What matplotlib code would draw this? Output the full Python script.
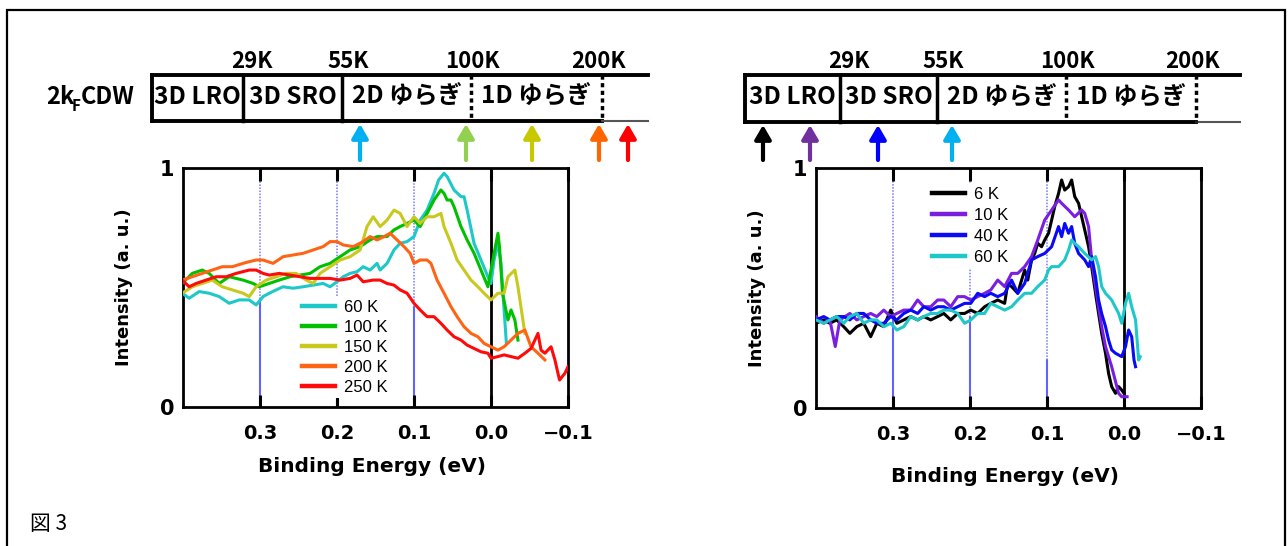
import matplotlib.pyplot as plt

plt.rcParams['font.family'] = ['DejaVu Sans', 'Noto Sans CJK JP']

# ---- left panel: 60 - 250 K ----
temps_l = ['60 K', '100 K', '150 K', '200 K', '250 K']
colors_l = ['#1ec8c8', '#00c000', '#c8c81e', '#ff6414', '#ff0a0a']

e_60 = [0.401, 0.392, 0.379, 0.366, 0.353, 0.340, 0.327, 0.314, 0.305, 0.296, 0.288, 0.279, 0.270, 0.257, 0.244,
        0.231, 0.218, 0.209, 0.200, 0.192, 0.183, 0.174, 0.166, 0.157, 0.148, 0.144, 0.135, 0.126, 0.118, 0.109,
        0.100, 0.092, 0.083, 0.074, 0.068, 0.061, 0.057, 0.048, 0.039, 0.035, 0.031, 0.022, 0.013, 0.004, 0.000,
        -0.004, -0.009, -0.013, -0.017, -0.020]
i_60 = [0.476, 0.455, 0.483, 0.476, 0.462, 0.434, 0.448, 0.448, 0.427, 0.462, 0.476, 0.490, 0.503, 0.497, 0.503,
        0.510, 0.517, 0.503, 0.524, 0.545, 0.559, 0.566, 0.587, 0.573, 0.601, 0.573, 0.601, 0.657, 0.685, 0.692,
        0.713, 0.782, 0.824, 0.894, 0.950, 0.978, 0.964, 0.908, 0.880, 0.880, 0.824, 0.685, 0.615, 0.545, 0.517,
        0.615, 0.685, 0.601, 0.406, 0.266]

e_100 = [0.401, 0.388, 0.375, 0.366, 0.353, 0.340, 0.322, 0.309, 0.301, 0.288, 0.275, 0.261, 0.248, 0.235, 0.222,
         0.209, 0.196, 0.183, 0.170, 0.157, 0.148, 0.135, 0.126, 0.118, 0.109, 0.100, 0.092, 0.083, 0.074, 0.065,
         0.061, 0.057, 0.052, 0.048, 0.039, 0.031, 0.022, 0.013, 0.004, -0.004, -0.009, -0.011, -0.015, -0.022,
         -0.026, -0.031, -0.035]
i_100 = [0.517, 0.559, 0.573, 0.559, 0.517, 0.545, 0.531, 0.517, 0.503, 0.517, 0.531, 0.545, 0.552, 0.559, 0.587,
         0.601, 0.629, 0.657, 0.671, 0.699, 0.713, 0.713, 0.741, 0.755, 0.768, 0.782, 0.755, 0.810, 0.866, 0.908,
         0.894, 0.866, 0.866, 0.838, 0.755, 0.699, 0.643, 0.573, 0.503, 0.643, 0.727, 0.671, 0.476, 0.364,
         0.406, 0.364, 0.280]

e_150 = [0.401, 0.388, 0.375, 0.362, 0.349, 0.336, 0.322, 0.314, 0.305, 0.292, 0.279, 0.266, 0.253, 0.240, 0.231,
         0.222, 0.209, 0.196, 0.183, 0.170, 0.161, 0.153, 0.144, 0.135, 0.126, 0.118, 0.109, 0.100, 0.092, 0.083,
         0.074, 0.065, 0.061, 0.052, 0.044, 0.035, 0.026, 0.017, 0.009, 0.000, -0.009, -0.017, -0.022, -0.031,
         -0.035, -0.044]
i_150 = [0.476, 0.503, 0.517, 0.531, 0.503, 0.490, 0.476, 0.462, 0.503, 0.531, 0.545, 0.559, 0.559, 0.531, 0.517,
         0.559, 0.587, 0.615, 0.629, 0.657, 0.755, 0.796, 0.755, 0.782, 0.824, 0.810, 0.755, 0.796, 0.768, 0.796,
         0.796, 0.810, 0.755, 0.685, 0.615, 0.573, 0.531, 0.503, 0.476, 0.448, 0.476, 0.476, 0.545, 0.573,
         0.503, 0.308]

e_200 = [0.401, 0.388, 0.375, 0.362, 0.349, 0.336, 0.322, 0.314, 0.305, 0.296, 0.283, 0.270, 0.257, 0.244, 0.231,
         0.218, 0.209, 0.200, 0.192, 0.179, 0.166, 0.157, 0.148, 0.139, 0.131, 0.122, 0.113, 0.105, 0.100, 0.092,
         0.083, 0.078, 0.070, 0.061, 0.052, 0.044, 0.035, 0.026, 0.017, 0.009, 0.000, -0.009, -0.017, -0.026,
         -0.035, -0.044, -0.052, -0.061, -0.070]
i_200 = [0.531, 0.545, 0.559, 0.573, 0.587, 0.587, 0.601, 0.608, 0.615, 0.615, 0.601, 0.629, 0.636, 0.643, 0.657,
         0.671, 0.692, 0.692, 0.678, 0.671, 0.692, 0.713, 0.699, 0.713, 0.727, 0.699, 0.671, 0.643, 0.601, 0.615,
         0.615, 0.601, 0.531, 0.476, 0.420, 0.378, 0.336, 0.308, 0.294, 0.266, 0.252, 0.238, 0.252, 0.280,
         0.308, 0.322, 0.252, 0.225, 0.197]

e_250 = [0.401, 0.392, 0.383, 0.370, 0.357, 0.344, 0.331, 0.314, 0.305, 0.296, 0.288, 0.275, 0.261, 0.248, 0.235,
         0.222, 0.209, 0.196, 0.183, 0.174, 0.166, 0.153, 0.144, 0.135, 0.126, 0.118, 0.109, 0.100, 0.092, 0.083,
         0.074, 0.065, 0.057, 0.048, 0.039, 0.031, 0.022, 0.013, 0.004, 0.000, -0.009, -0.017, -0.026, -0.035,
         -0.044, -0.052, -0.061, -0.065, -0.070, -0.078, -0.083, -0.089, -0.096, -0.100]
i_250 = [0.531, 0.503, 0.517, 0.531, 0.545, 0.545, 0.559, 0.573, 0.573, 0.559, 0.552, 0.559, 0.552, 0.545, 0.538,
         0.538, 0.538, 0.531, 0.538, 0.552, 0.524, 0.531, 0.531, 0.517, 0.510, 0.490, 0.476, 0.434, 0.406, 0.378,
         0.378, 0.350, 0.322, 0.294, 0.280, 0.259, 0.245, 0.231, 0.225, 0.204, 0.211, 0.218, 0.211, 0.204,
         0.225, 0.245, 0.308, 0.238, 0.225, 0.252, 0.197, 0.113, 0.141, 0.169]

# ---- right panel: 6 - 60 K ----
temps_r = ['6 K', '10 K', '40 K', '60 K']
colors_r = ['#000000', '#7a1fe0', '#0a0af5', '#1ec8c8']

e_6 = [0.400, 0.390, 0.382, 0.373, 0.364, 0.356, 0.347, 0.338, 0.329, 0.321, 0.312, 0.303, 0.295, 0.286, 0.277,
       0.268, 0.260, 0.251, 0.242, 0.234, 0.225, 0.216, 0.207, 0.199, 0.190, 0.181, 0.173, 0.164, 0.155, 0.151,
       0.146, 0.138, 0.133, 0.129, 0.125, 0.120, 0.116, 0.112, 0.107, 0.103, 0.098, 0.094, 0.090, 0.085, 0.081,
       0.077, 0.072, 0.068, 0.064, 0.059, 0.055, 0.051, 0.046, 0.042, 0.037, 0.033, 0.029, 0.024, 0.020, 0.016,
       0.011, 0.007, 0.003, 0.000]
i_6 = [0.353, 0.367, 0.353, 0.367, 0.339, 0.311, 0.339, 0.353, 0.297, 0.353, 0.339, 0.408, 0.353, 0.367, 0.381,
       0.367, 0.381, 0.367, 0.381, 0.394, 0.367, 0.394, 0.394, 0.408, 0.394, 0.422, 0.436, 0.450, 0.436, 0.519,
       0.506, 0.478, 0.533, 0.575, 0.533, 0.617, 0.644, 0.686, 0.672, 0.700, 0.728, 0.783, 0.839, 0.894, 0.950,
       0.908, 0.922, 0.950, 0.881, 0.853, 0.797, 0.742, 0.672, 0.589, 0.478, 0.394, 0.311, 0.228, 0.144, 0.089,
       0.061, 0.089, 0.075, 0.061]

e_10 = [0.400, 0.390, 0.382, 0.375, 0.369, 0.356, 0.347, 0.338, 0.329, 0.321, 0.312, 0.303, 0.295, 0.286, 0.277,
        0.268, 0.260, 0.251, 0.242, 0.234, 0.225, 0.216, 0.207, 0.199, 0.190, 0.181, 0.173, 0.164, 0.155, 0.146,
        0.138, 0.129, 0.120, 0.112, 0.103, 0.094, 0.085, 0.081, 0.072, 0.064, 0.055, 0.051, 0.046, 0.042, 0.037,
        0.033, 0.029, 0.024, 0.016, 0.007, 0.003, -0.004]
i_10 = [0.381, 0.353, 0.367, 0.256, 0.367, 0.394, 0.367, 0.381, 0.394, 0.381, 0.408, 0.381, 0.394, 0.408, 0.408,
        0.450, 0.422, 0.422, 0.450, 0.450, 0.422, 0.464, 0.464, 0.450, 0.464, 0.478, 0.492, 0.533, 0.506, 0.561,
        0.561, 0.589, 0.631, 0.700, 0.783, 0.825, 0.867, 0.853, 0.825, 0.797, 0.825, 0.811, 0.756, 0.617, 0.506,
        0.422, 0.339, 0.256, 0.172, 0.061, 0.047, 0.047]

e_40 = [0.400, 0.390, 0.382, 0.373, 0.364, 0.356, 0.347, 0.338, 0.329, 0.321, 0.312, 0.303, 0.295, 0.286, 0.277,
        0.268, 0.260, 0.251, 0.242, 0.234, 0.225, 0.216, 0.207, 0.199, 0.190, 0.181, 0.173, 0.164, 0.155, 0.146,
        0.138, 0.129, 0.120, 0.112, 0.103, 0.094, 0.085, 0.081, 0.077, 0.072, 0.068, 0.064, 0.059, 0.051, 0.046,
        0.042, 0.037, 0.033, 0.029, 0.024, 0.020, 0.016, 0.011, 0.003, -0.002, -0.006, -0.010, -0.013, -0.015]
i_40 = [0.367, 0.381, 0.367, 0.381, 0.381, 0.367, 0.394, 0.394, 0.367, 0.353, 0.353, 0.381, 0.367, 0.394, 0.408,
        0.394, 0.422, 0.408, 0.422, 0.422, 0.408, 0.422, 0.436, 0.436, 0.478, 0.464, 0.478, 0.464, 0.478, 0.533,
        0.478, 0.519, 0.617, 0.631, 0.644, 0.672, 0.756, 0.714, 0.769, 0.728, 0.756, 0.686, 0.644, 0.617, 0.589,
        0.631, 0.547, 0.450, 0.394, 0.339, 0.283, 0.242, 0.228, 0.214, 0.256, 0.325, 0.297, 0.200, 0.172]

e_60r = [0.400, 0.390, 0.382, 0.373, 0.364, 0.356, 0.347, 0.338, 0.329, 0.321, 0.312, 0.303, 0.295, 0.286, 0.277,
         0.268, 0.260, 0.251, 0.242, 0.234, 0.225, 0.216, 0.207, 0.199, 0.190, 0.181, 0.173, 0.164, 0.155, 0.146,
         0.138, 0.129, 0.120, 0.112, 0.103, 0.098, 0.094, 0.085, 0.077, 0.072, 0.068, 0.064, 0.059, 0.051, 0.042,
         0.037, 0.033, 0.029, 0.024, 0.016, 0.007, 0.003, -0.002, -0.006, -0.010, -0.015, -0.019, -0.021]
i_60r = [0.367, 0.353, 0.367, 0.381, 0.353, 0.381, 0.394, 0.353, 0.367, 0.367, 0.339, 0.353, 0.325, 0.339, 0.381,
         0.367, 0.381, 0.394, 0.394, 0.408, 0.408, 0.394, 0.353, 0.367, 0.394, 0.394, 0.436, 0.422, 0.408, 0.422,
         0.450, 0.478, 0.478, 0.506, 0.533, 0.575, 0.589, 0.589, 0.617, 0.658, 0.700, 0.686, 0.672, 0.644, 0.617,
         0.631, 0.589, 0.506, 0.478, 0.450, 0.394, 0.353, 0.436, 0.478, 0.422, 0.367, 0.200, 0.214]

# ---- header (phase diagram) ----
phases = ['3D LRO', '3D SRO', '2D ゆらぎ', '1D ゆらぎ']
t_marks = ['29K', '55K', '100K', '200K']
arrow_colors_l = ['#00b0f0', '#92d050', '#c8c800', '#ff6600', '#ff0000']   # 60,100,150,200,250 K
arrow_colors_r = ['#000000', '#7030a0', '#0000ff', '#00b0f0']              # 6,10,40,60 K

xticks = [0.3, 0.2, 0.1, 0.0, -0.1]
xticklabels = ['0.3', '0.2', '0.1', '0.0', '\u22120.1']

W, H = 1288, 546
fig = plt.figure(figsize=(W / 100, H / 100), dpi=100)

# overlay axes in pixel units for the frame / header
ov = fig.add_axes([0, 0, 1, 1], zorder=0)
ov.set_xlim(0, W)
ov.set_ylim(H, 0)
ov.axis('off')

# outer frame (open at the bottom)
ov.plot([7, 7, 1285, 1285], [H, 10, 10, H], color='k', lw=1.6, solid_joinstyle='miter')
ov.text(30, 524, '図 3', fontsize=15, va='center', ha='left',
        family=['Noto Sans CJK JP', 'DejaVu Sans'])


def header(x0, divs, xend, ytop, ybot, arrows_x, arrow_cols):
    hf = ['Noto Sans CJK JP', 'DejaVu Sans']
    ov.plot([x0, xend], [ytop, ytop], color='k', lw=2.8)
    ov.plot([x0, x0], [ytop, ybot], color='k', lw=2.8)
    ov.plot([x0, divs[-1]], [ybot, ybot], color='k', lw=2.8)
    ov.plot([divs[-1], xend], [ybot, ybot], color='#555555', lw=1.5)
    for k, d in enumerate(divs):
        if k < 2:
            ov.plot([d, d], [ytop, ybot], color='k', lw=2.5)
        else:
            ov.plot([d, d], [ytop, ybot], color='k', lw=2.5, linestyle=(0, (1.2, 1.0)))
    offs = [9, 6, 1, -4]
    for d, lab, o in zip(divs, t_marks, offs):
        ov.text(d + o, 62, lab, ha='center', va='center', fontsize=16, fontweight='bold', family=hf)
    edges = [x0] + divs
    for k, ph in enumerate(phases):
        ov.text((edges[k] + edges[k + 1]) / 2, (ytop + ybot) / 2 - 1, ph, ha='center', va='center',
                fontsize=17.5, fontweight='bold', family=hf)
    for ax_, c in zip(arrows_x, arrow_cols):
        ov.annotate('', xy=(ax_, ybot + 3), xytext=(ax_, 160),
                    arrowprops=dict(arrowstyle='-|>,head_length=0.6,head_width=0.35', color=c, lw=3,
                                    mutation_scale=14, shrinkA=0, shrinkB=0))


header(152, [243, 342, 471, 602], 648, 75, 121, [360, 466, 532, 599, 628], arrow_colors_l)
header(745, [840, 937, 1066, 1196], 1240, 75, 122, [763, 810, 878, 952], arrow_colors_r)

# 2kF CDW label
hf = ['Noto Sans CJK JP', 'DejaVu Sans']
ov.text(46, 97, '2k', ha='left', va='center', fontsize=17, fontweight='bold', family=hf)
ov.text(72, 106, 'F', ha='left', va='center', fontsize=11, fontweight='bold', family=hf)
ov.text(81, 97, 'CDW', ha='left', va='center', fontsize=17, fontweight='bold', family=hf)


def panel(rect, series, temps, colors, splits, leg_anchor, leg_space, xlab_y):
    ax = fig.add_axes(rect, zorder=2)
    ax.set_xlim(0.40, -0.10)
    ax.set_ylim(0, 1)
    for e, s in zip([0.3, 0.2, 0.1], splits):
        ax.plot([e, e], [0, s], color='#6262ff', lw=1.5, zorder=1)
        ax.plot([e, e], [s, 1], color='#7878ff', lw=1.1, linestyle=(0, (1, 1)), zorder=1)
    ax.axvline(0.0, color='k', lw=2, zorder=1)
    for (e, i), t, c in zip(series, temps, colors):
        ax.plot(e, i, color=c, lw=2.2, label=t, zorder=3)
    ax.set_xticks(xticks)
    ax.set_xticklabels(xticklabels)
    ax.set_yticks([0, 1])
    ax.set_yticklabels(['0', '1'])
    ax.tick_params(axis='x', direction='in', length=9, width=2.2, top=True, pad=12, labelsize=14)
    for lab in ax.get_xticklabels():
        lab.set_fontweight('bold')
    ax.tick_params(axis='y', length=0, pad=6, labelsize=15)
    for lab in ax.get_yticklabels():
        lab.set_fontweight('bold')
    for sp in ax.spines.values():
        sp.set_linewidth(2)
    ax.set_ylabel('Intensity (a. u.)', fontsize=13, fontweight='bold')
    ax.yaxis.set_label_coords(-0.13, 0.5)
    ax.set_xlabel('Binding Energy (eV)', fontsize=14.5, fontweight='bold')
    ax.xaxis.label.set_va('center')
    ax.xaxis.set_label_coords(0.49, xlab_y)
    leg = ax.legend(loc='upper left', bbox_to_anchor=leg_anchor, frameon=True, facecolor='white',
                    edgecolor='none', fancybox=False, framealpha=1, borderpad=0.2, borderaxespad=0,
                    handlelength=2.0, handletextpad=0.55, labelspacing=leg_space,
                    prop={'family': 'Liberation Sans', 'size': 12})
    for ln in leg.get_lines():
        ln.set_linewidth(3.2)
    return ax


panel([183 / W, 1 - 407 / H, 385 / W, 239 / H],
      [(e_60, i_60), (e_100, i_100), (e_150, i_150), (e_200, i_200), (e_250, i_250)],
      temps_l, colors_l, [0.45, 0.45, 0.42], (0.300, 0.462), 0.30, -0.247)
panel([816 / W, 1 - 408 / H, 385 / W, 240 / H],
      [(e_6, i_6), (e_10, i_10), (e_40, i_40), (e_60r, i_60r)],
      temps_r, colors_r, [0.38, 0.38, 0.2], (0.292, 0.936), 0.36, -0.2875)

plt.savefig('out.png', dpi=100)
